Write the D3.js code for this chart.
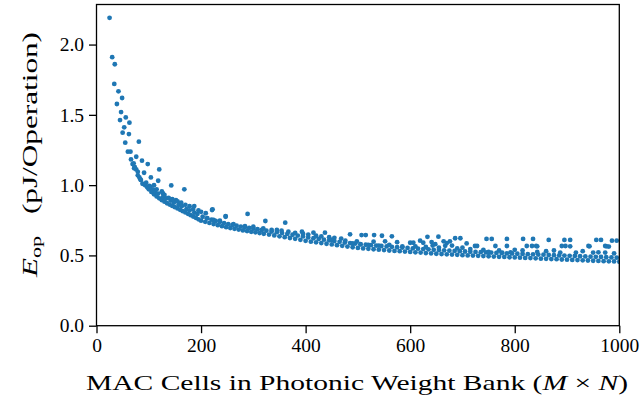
<!DOCTYPE html>
<html>
<head>
<meta charset="utf-8">
<script src="https://cdn.jsdelivr.net/npm/d3@7"></script>
<style>
  body { margin: 0; background: #fff; }
  text { font-family: "Liberation Serif", "DejaVu Serif", serif; fill: #000; }
</style>
</head>
<body>
<svg id="chart" width="642" height="405"></svg>
<script>
// Tick values
const xTicks = [0, 200, 400, 600, 800, 1000];
const yTicks = [0, 0.5, 1.0, 1.5, 2.0];

// Small banks and scattered points: [M x N, E_op]
const smallBanks = [
  [25,2.19],[30,1.91],[35,1.86],[34,1.72],[42,1.667],[49,1.62],[39,1.577],[47,1.52],[56,1.482],[45,1.463],
  [63,1.444],[53,1.411],[50,1.373],[62,1.363],[81,1.309],[55,1.302],[60,1.238],[65,1.238],[76,1.202],[66,1.183],
  [87,1.174],[69,1.15],[98,1.15],[71,1.155],[120,1.112],[76,1.112],[79,1.095],[91,1.088],[104,1.055],[82,1.055],
  [118,1.031],[85,1.036],[95,1.017],[143,0.998],[168,0.97],[101,0.994],[108,0.97],[127,0.942],[152,0.894],[187,0.851],
  [72,1.12],[79,1.07],[88,1.01],[73,1.13],[84,1.04],[93,1.0],[97,0.985]
];

// Lower edge of the dense band
const bandLow = [
  [100,0.97],[105,0.952],[110,0.935],[115,0.92],[120,0.906],[125,0.893],[130,0.882],[135,0.871],[140,0.862],[145,0.852],
  [150,0.843],[155,0.834],[160,0.825],[165,0.815],[170,0.806],[175,0.796],[180,0.786],[185,0.777],[190,0.768],[195,0.757],
  [200,0.747],[208,0.739],[216,0.731],[224,0.723],[232,0.715],[240,0.708],[248,0.701],[256,0.695],[264,0.689],[272,0.684],
  [280,0.678],[288,0.673],[296,0.668],[304,0.664],[312,0.659],[320,0.654],[330,0.648],[340,0.642],[350,0.636],[360,0.630],
  [370,0.624],[380,0.618],[390,0.611],[400,0.604],[410,0.598],[420,0.593],[430,0.588],[440,0.583],[450,0.578],[460,0.573],
  [470,0.568],[480,0.563],[490,0.558],[500,0.553],[510,0.550],[520,0.547],[530,0.544],[540,0.541],[550,0.538],[560,0.535],
  [570,0.532],[580,0.530],[590,0.527],[600,0.525],[610,0.522],[620,0.520],[630,0.517],[640,0.515],[650,0.512],[660,0.510],
  [670,0.508],[680,0.506],[690,0.504],[700,0.502],[710,0.500],[720,0.499],[730,0.497],[740,0.495],[750,0.494],[760,0.492],
  [770,0.490],[780,0.489],[790,0.487],[800,0.486],[810,0.484],[820,0.482],[830,0.481],[840,0.479],[850,0.477],[860,0.476],
  [870,0.474],[880,0.473],[890,0.471],[900,0.470],[910,0.468],[920,0.467],[930,0.465],[940,0.464],[950,0.462],[960,0.461],
  [970,0.459],[980,0.458],[990,0.457],[1000,0.455]
];

// Upper edge of the dense band
const bandHigh = [
  [103,0.99],[112,0.955],[118,0.94],[127,0.915],[133,0.905],[142,0.89],[148,0.875],[157,0.86],[163,0.85],[172,0.83],
  [178,0.82],[187,0.805],[193,0.795],[203,0.775],[212,0.765],[220,0.755],[228,0.745],[236,0.738],[244,0.73],[252,0.723],
  [260,0.717],[268,0.711],[276,0.705],[284,0.70],[292,0.695],[300,0.69],[308,0.686],[316,0.681],[325,0.676],[335,0.67],
  [345,0.665],[355,0.659],[365,0.653],[375,0.647],[385,0.641],[395,0.635],[405,0.628],[415,0.622],[425,0.617],[435,0.612],
  [445,0.607],[455,0.602],[465,0.597],[475,0.592],[485,0.588],[495,0.584],[505,0.58],[515,0.576],[525,0.573],[535,0.57],
  [545,0.567],[555,0.564],[565,0.561],[575,0.558],[585,0.556],[595,0.553],[605,0.55],[615,0.548],[625,0.545],[635,0.543],
  [645,0.54],[655,0.538],[665,0.536],[675,0.534],[685,0.532],[695,0.530],[705,0.528],[715,0.526],[725,0.525],[735,0.523],
  [745,0.521],[755,0.52],[765,0.518],[775,0.517],[785,0.515],[795,0.514],[805,0.512],[815,0.511],[825,0.509],[835,0.508],
  [845,0.506],[855,0.505],[865,0.503],[875,0.502],[885,0.50],[895,0.499],[905,0.497],[915,0.496],[925,0.494],[935,0.493],
  [945,0.491],[955,0.49],[965,0.489],[975,0.487],[985,0.486],[995,0.484]
];

// Scattered points just above the band
const bandScatter = [
  [110,1.0],[115,0.97],[125,0.955],[130,0.93],[138,0.91],[145,0.9],[155,0.885],[162,0.875],[170,0.86],[178,0.85],
  [185,0.83],[195,0.82],[200,0.81],
  [211,0.764],[224,0.752],[236,0.747],[262,0.723],[284,0.709],[300,0.704],[319,0.693],[335,0.681],[345,0.681],[354,0.676],
  [367,0.669],[380,0.66],[395,0.655],[405,0.648],[420,0.64],[430,0.635],[445,0.63],[455,0.625],[468,0.62],
  [450,0.61],[476,0.605],[498,0.60],[530,0.598],[552,0.60],[575,0.594],[600,0.59],[619,0.605],[625,0.59],[641,0.595],
  [648,0.58],[664,0.60],[670,0.588],[676,0.60],[708,0.585],
  [643,0.57],[667,0.568],[680,0.57],[724,0.567],[728,0.567],[763,0.567],[785,0.567],[823,0.567],[833,0.567],[841,0.567],
  [843,0.565],[890,0.567],[897,0.567],[906,0.565],[941,0.567],[943,0.565],[973,0.567],[976,0.565],[980,0.563],
  [750,0.525],[776,0.52],[792,0.522],[843,0.525],[887,0.52],[917,0.52],[960,0.522],[973,0.52],
  [490,0.585],[505,0.578],[520,0.575],[540,0.57],[560,0.575],[585,0.565],[610,0.565],[630,0.56],[655,0.555],[690,0.55],
  [700,0.555],[715,0.545],[740,0.54],[770,0.535],[800,0.54],[815,0.535],[860,0.53],[875,0.535],[930,0.53],[950,0.52],[990,0.515]
];

// Outliers well above the band
const outliers = [
  [221,0.823],[209,0.80],[247,0.775],[289,0.795],[222,0.828],[247,0.78],[323,0.745],[361,0.733],[393,0.669],[415,0.662],
  [437,0.662],[485,0.65],[507,0.645],[515,0.645],[531,0.645],[546,0.64],[565,0.636],[606,0.59],[633,0.632],[654,0.633],
  [686,0.622],[696,0.622],[746,0.617],[756,0.617],[785,0.617],[816,0.617],[835,0.617],[865,0.61],[895,0.61],[906,0.61],
  [956,0.61],[965,0.61],[986,0.605],[995,0.605]
];

const svg = d3.select("#chart");
const plotLeft = 96.5, plotRight = 619.3, plotTop = 4.5, plotBottom = 325.7;

const x = d3.scaleLinear().domain([0, 1000]).range([plotLeft, plotRight]);
const y = d3.scaleLinear().domain([0, 2.285]).range([plotBottom, plotTop]);

// Clip points to the axes box
svg.append("defs").append("clipPath")
    .attr("id", "plot-clip")
    .append("rect")
    .attr("x", plotLeft).attr("y", plotTop)
    .attr("width", plotRight - plotLeft).attr("height", plotBottom - plotTop);

const allPoints = [].concat(smallBanks, bandLow, bandHigh, bandScatter, outliers);

svg.append("g")
    .attr("clip-path", "url(#plot-clip)")
    .selectAll("circle")
    .data(allPoints)
    .enter().append("circle")
    .attr("cx", d => x(d[0]))
    .attr("cy", d => y(d[1]))
    .attr("r", 2.4)
    .attr("fill", "#1f77b4");

// Axes
const xAxis = d3.axisBottom(x).tickValues(xTicks).tickSize(7.5).tickPadding(5).tickFormat(d3.format("d"));
const yAxis = d3.axisLeft(y).tickValues(yTicks).tickSize(7.5).tickPadding(5).tickFormat(d3.format(".1f"));

const gx = svg.append("g").attr("transform", `translate(0,${plotBottom})`).call(xAxis);
const gy = svg.append("g").attr("transform", `translate(${plotLeft},0)`).call(yAxis);

[gx, gy].forEach(g => {
    g.select(".domain").remove();
    g.selectAll(".tick line").attr("stroke", "#000").attr("stroke-width", 1.3);
    g.selectAll(".tick text").style("font-size", "19.5px").attr("fill", "#000");
});

// Frame
svg.append("rect")
    .attr("x", plotLeft).attr("y", plotTop)
    .attr("width", plotRight - plotLeft).attr("height", plotBottom - plotTop)
    .attr("fill", "none")
    .attr("stroke", "#000")
    .attr("stroke-width", 1.3);

// Axis labels (stretched to the width of the original TeX text)
const xLabel = svg.append("text")
    .attr("x", 357)
    .attr("y", 390)
    .attr("text-anchor", "middle")
    .attr("textLength", 542)
    .attr("lengthAdjust", "spacingAndGlyphs")
    .style("font-size", "22px");
xLabel.append("tspan").text("MAC Cells in Photonic Weight Bank (");
xLabel.append("tspan").style("font-style", "italic").text("M");
xLabel.append("tspan").text(" \u00d7 ");
xLabel.append("tspan").style("font-style", "italic").text("N");
xLabel.append("tspan").text(")");

const yLabel = svg.append("text")
    .attr("transform", "translate(36.5,154.5) rotate(-90)")
    .attr("text-anchor", "middle")
    .attr("textLength", 245)
    .attr("lengthAdjust", "spacingAndGlyphs")
    .style("font-size", "22px");
yLabel.append("tspan").style("font-style", "italic").text("E");
yLabel.append("tspan").attr("dy", 4).style("font-size", "15.5px").text("op");
yLabel.append("tspan").attr("dy", -4).text("\u2002\u2009(pJ/Operation)");
</script>
</body>
</html>
